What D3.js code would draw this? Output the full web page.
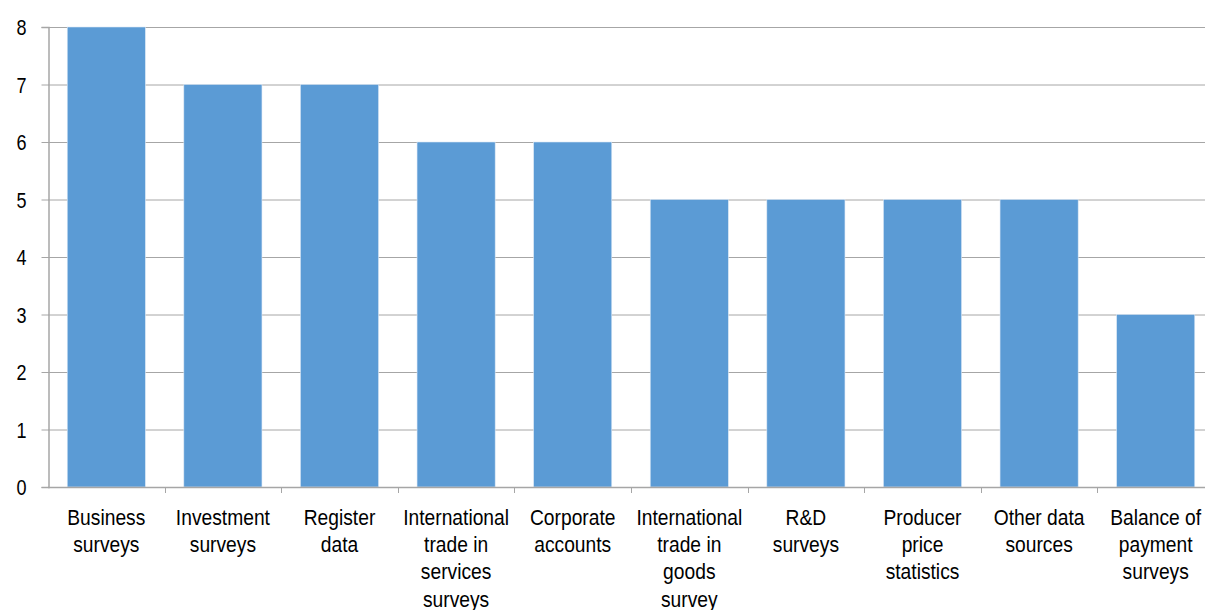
<!DOCTYPE html>
<html>
<head>
<meta charset="utf-8">
<script src="https://cdn.jsdelivr.net/npm/d3@7"></script>
<style>
  body { margin: 0; background: #fff; }
  text { font-family: "Liberation Sans Narrow", "Arial Narrow", "Liberation Sans", sans-serif; fill: #000; }
</style>
</head>
<body>
<div id="chart"></div>
<script>
const categories = [
  ['Business', 'surveys'],
  ['Investment', 'surveys'],
  ['Register', 'data'],
  ['International', 'trade in', 'services', 'surveys'],
  ['Corporate', 'accounts'],
  ['International', 'trade in', 'goods', 'survey'],
  ['R&D', 'surveys'],
  ['Producer', 'price', 'statistics'],
  ['Other data', 'sources'],
  ['Balance of', 'payment', 'surveys']
];
const values = [8, 7, 7, 6, 6, 5, 5, 5, 5, 3];
const yTicks = [0, 1, 2, 3, 4, 5, 6, 7, 8];

const W = 1205, H = 610;
const plotLeft = 48, plotRight = 1214, plotTop = 27, plotBottom = 487;
// no narrow font installed, so squeeze the regular one
const squeeze = 0.855;

const svg = d3.select('#chart').append('svg')
  .attr('width', W)
  .attr('height', H);

const x = d3.scaleBand()
  .domain(d3.range(categories.length))
  .range([plotLeft, plotRight])
  .paddingInner(0.33)
  .paddingOuter(0.165);

const y = d3.scaleLinear()
  .domain([0, 8])
  .range([plotBottom, plotTop]);

// gridlines
svg.append('g')
  .selectAll('line').data(yTicks.filter(d => d > 0))
  .enter().append('line')
    .attr('x1', plotLeft).attr('x2', plotRight)
    .attr('y1', d => y(d) + 0.5).attr('y2', d => y(d) + 0.5)
    .attr('stroke', '#a6a6a6')
    .attr('stroke-width', 1);

// bars
svg.append('g')
  .selectAll('rect').data(values)
  .enter().append('rect')
    .attr('x', (d, i) => x(i))
    .attr('y', d => y(d))
    .attr('width', x.bandwidth())
    .attr('height', d => plotBottom - y(d))
    .attr('fill', '#5b9bd5')
    .attr('stroke', '#dbe8f5')
    .attr('stroke-width', 0.6);

// y axis
const yAxis = svg.append('g')
  .attr('transform', 'translate(' + (plotLeft + 0.5) + ',0)')
  .call(d3.axisLeft(y).tickValues(yTicks).tickSize(7).tickFormat(d3.format('d')));
yAxis.select('.domain').attr('stroke', '#a6a6a6').attr('stroke-width', 1.5);
yAxis.selectAll('.tick line').attr('stroke', '#a6a6a6');
yAxis.selectAll('.tick text')
  .style('font-size', '22px')
  .attr('dy', '0.35em')
  .attr('x', -22 / 0.82)
  .attr('transform', 'scale(0.82,1)');

// x axis
const xTicks = d3.range(categories.length + 1).map(i => plotLeft + i * x.step());
const xAxisG = svg.append('g');
xAxisG.append('line')
  .attr('x1', plotLeft).attr('x2', plotRight)
  .attr('y1', plotBottom + 0.5).attr('y2', plotBottom + 0.5)
  .attr('stroke', '#a6a6a6').attr('stroke-width', 1.5);
xAxisG.selectAll('line.tk').data(xTicks.slice(1))
  .enter().append('line')
    .attr('class', 'tk')
    .attr('x1', d => Math.round(d) + 0.5).attr('x2', d => Math.round(d) + 0.5)
    .attr('y1', plotBottom).attr('y2', plotBottom + 6)
    .attr('stroke', '#a6a6a6');

// category labels
const labels = svg.append('g')
  .selectAll('text').data(categories)
  .enter().append('text')
    .attr('text-anchor', 'middle')
    .attr('transform', (d, i) => 'translate(' + (x(i) + x.bandwidth() / 2) + ',524.5) scale(' + squeeze + ',1)')
    .style('font-size', '22.5px');
labels.selectAll('tspan').data(d => d)
  .enter().append('tspan')
    .attr('x', 0)
    .attr('dy', (d, i) => i === 0 ? 0 : 27.4)
    .text(d => d);
</script>
</body>
</html>
